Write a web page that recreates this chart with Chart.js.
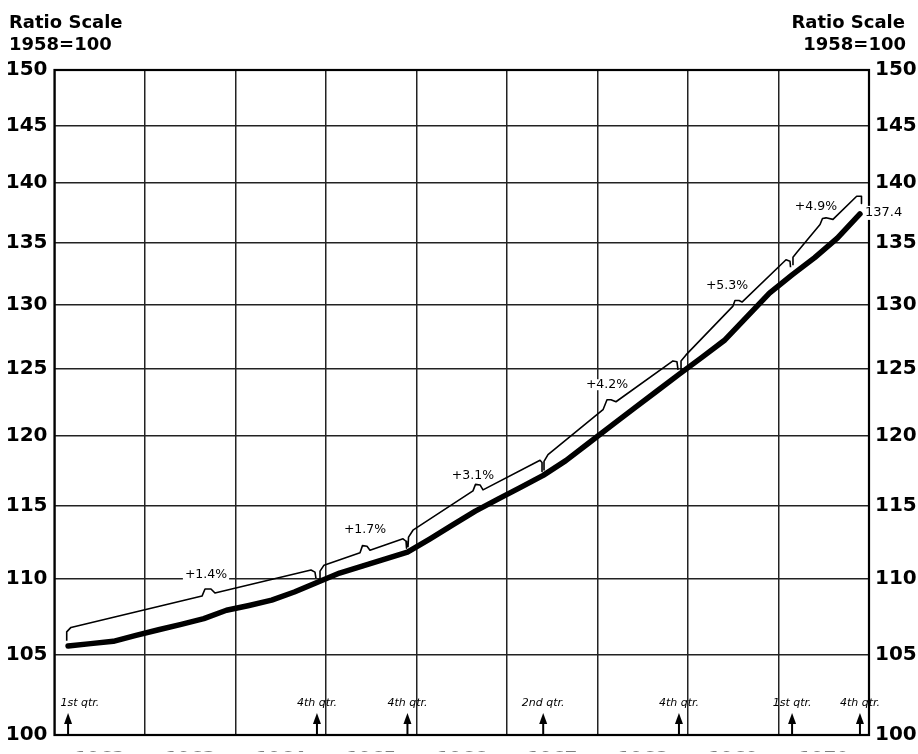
<!DOCTYPE html>
<html>
<head>
<meta charset="utf-8">
<script src="https://cdn.jsdelivr.net/npm/chart.js@4.4.1/dist/chart.umd.min.js"></script>
<style>html,body{margin:0;padding:0;background:#fff}canvas{display:block}</style>
</head>
<body>
<canvas id="c" width="918" height="754"></canvas>
<script>
// ---- Data ----
const yearLabels = ["1962","1963","1964","1965","1966","1967","1968","1969","1970"];
const yearLines  = [1962,1963,1964,1965,1966,1967,1968,1969,1970,1971];
const yTicks     = [100,105,110,115,120,125,130,135,140,145,150];

// quarterly positions (1962 Q1 ... 1970 Q4)
const quarterX = [
 1962.15,1962.40,1962.65,1962.90, 1963.15,1963.40,1963.65,1963.90,
 1964.15,1964.40,1964.65,1964.90, 1965.15,1965.40,1965.65,1965.90,
 1966.15,1966.40,1966.65,1966.90, 1967.15,1967.40,1967.65,1967.90,
 1968.15,1968.40,1968.65,1968.90, 1969.15,1969.40,1969.65,1969.90,
 1970.15,1970.40,1970.65,1970.90];
// index, 1958 = 100
const indexValues = [
 105.57,105.73,105.88,106.26, 106.63,106.98,107.35,107.90,
 108.22,108.57,109.11,109.75, 110.38,110.85,111.32,111.79,
 112.71,113.67,114.63,115.47, 116.30,117.15,118.21,119.47,
 120.74,122.02,123.30,124.59, 125.87,127.19,129.04,130.92,
 132.38,133.79,135.38,137.40];

// bracket (trend) line drawn above the series; null separates brackets
const trendX = [
 1962.135,1962.135,1962.182,1963.630,1963.663,1963.729,1963.773,1964.834,1964.878,1964.889, 1964.91,
 1964.934,1964.934,1964.978,1965.376,1965.403,1965.453,1965.486,1965.851,1965.884,1965.890, 1965.90,
 1965.906,1965.912,1965.961,1966.624,1966.652,1966.702,1966.735,1967.365,1967.387,1967.387, 1967.40,
 1967.409,1967.409,1967.453,1968.061,1968.105,1968.149,1968.204,1968.834,1968.878,1968.890, 1968.91,
 1968.923,1968.923,1968.978,1969.497,1969.519,1969.564,1969.597,1970.083,1970.127,1970.133, 1970.15,
 1970.160,1970.160,1970.204,1970.459,1970.486,1970.525,1970.602,1970.864,1970.917,1970.917];
const trendY = [
 105.91,106.49,106.78,108.84,109.31,109.31,109.04,110.58,110.44,110.04, null,
 109.91,110.51,110.91,111.76,112.24,112.20,111.93,112.71,112.54,112.07, null,
 112.13,112.82,113.30,116.05,116.51,116.47,116.12,118.24,118.08,117.43, null,
 117.50,118.15,118.65,121.94,122.68,122.68,122.53,125.62,125.55,124.94, null,
 124.86,125.62,126.08,129.89,130.33,130.33,130.21,133.61,133.49,133.00, null,
 133.17,133.82,134.22,136.52,137.02,137.07,136.94,138.89,138.89,138.28];

// growth-rate annotations
const growthLabels = ["+1.4%","+1.7%","+3.1%","+4.2%","+5.3%","+4.9%"];
const growthX      = [1963.674,1965.431,1966.624,1968.105,1969.431,1970.414];
const growthY      = [110.24,113.30,117.15,123.81,131.48,138.03];

// quarter markers along the bottom
const qtrLabels = ["1st qtr.","4th qtr.","4th qtr.","2nd qtr.","4th qtr.","1st qtr.","4th qtr."];
const qtrX      = [1962.15,1964.90,1965.90,1967.40,1968.90,1970.15,1970.90];

const lastLabel = "137.4";

// ---- Chart ----
const xTickValues = [];
yearLines.forEach(v => xTickValues.push(v));
yearLabels.forEach(l => xTickValues.push(Number(l) + 0.5));
xTickValues.sort((a,b)=>a-b);

const FONT = '"DejaVu Sans", sans-serif';
const tickFont = {family: FONT, size: 20, weight: 'bold'};
const GRID = '#222';

const decor = {
  id: 'decor',
  beforeDraw(chart) {
    const ctx = chart.ctx;
    ctx.save();
    ctx.fillStyle = '#fff';
    ctx.fillRect(0, 0, chart.width, chart.height);
    ctx.restore();
  },
  beforeDatasetsDraw(chart) {
    const {ctx, chartArea: a} = chart;
    ctx.save();
    ctx.strokeStyle = '#000';
    ctx.lineWidth = 2.2;
    ctx.strokeRect(a.left, a.top, a.right - a.left, a.bottom - a.top);
    ctx.restore();
  },
  afterDatasetsDraw(chart) {
    const {ctx, chartArea: a, scales: {x, y}} = chart;
    ctx.save();
    // growth labels
    ctx.font = '12.5px ' + FONT;
    ctx.textAlign = 'center';
    ctx.textBaseline = 'middle';
    growthLabels.forEach((t, i) => {
      const px = x.getPixelForValue(growthX[i]);
      const py = y.getPixelForValue(growthY[i]);
      const w = ctx.measureText(t).width;
      ctx.fillStyle = '#fff';
      ctx.fillRect(px - w/2 - 2, py - 5.5, w + 4, 11);
      ctx.fillStyle = '#000';
      ctx.fillText(t, px, py);
    });
    // final value label
    const li = indexValues.length - 1;
    const lx = x.getPixelForValue(quarterX[li]) + 5;
    const ly = y.getPixelForValue(indexValues[li]) - 1;
    ctx.font = '13px ' + FONT;
    ctx.textAlign = 'left';
    const lw = ctx.measureText(lastLabel).width;
    ctx.fillStyle = '#fff';
    ctx.fillRect(lx - 1, ly - 7, lw + 2, 14);
    ctx.fillStyle = '#000';
    ctx.fillText(lastLabel, lx, ly);
    // quarter markers
    ctx.font = 'italic 11px ' + FONT;
    ctx.textAlign = 'center';
    qtrLabels.forEach((t, i) => {
      const px = x.getPixelForValue(qtrX[i]);
      const w = ctx.measureText(t).width;
      let tx = px;
      if (tx - w/2 < a.left + 6) tx = a.left + 6 + w/2;
      ctx.fillStyle = '#000';
      ctx.fillText(t, tx, a.bottom - 32);
      ctx.strokeStyle = '#000';
      ctx.lineWidth = 2;
      ctx.beginPath();
      ctx.moveTo(px, a.bottom - 1);
      ctx.lineTo(px, a.bottom - 13);
      ctx.stroke();
      ctx.beginPath();
      ctx.moveTo(px, a.bottom - 22);
      ctx.lineTo(px - 4, a.bottom - 11);
      ctx.lineTo(px + 4, a.bottom - 11);
      ctx.closePath();
      ctx.fill();
    });
    ctx.restore();
  },
  afterDraw(chart) {
    const ctx = chart.ctx;
    ctx.save();
    ctx.fillStyle = '#000';
    ctx.font = 'bold 18px ' + FONT;
    ctx.textBaseline = 'alphabetic';
    ctx.textAlign = 'left';
    ctx.fillText('Ratio Scale', 9, 28);
    ctx.fillText('1958=100', 9, 50);
    ctx.textAlign = 'right';
    ctx.fillText('Ratio Scale', 905, 28);
    ctx.fillText('1958=100', 906, 50);
    ctx.restore();
  }
};

const yAxisBase = (pos) => ({
  type: 'logarithmic',
  position: pos,
  min: 100, max: 150,
  afterBuildTicks: s => { s.ticks = yTicks.map(v => ({value: v})); },
  border: {display: false},
  ticks: {
    color: '#000', font: tickFont, autoSkip: false,
    callback: v => String(v)
  }
});

const yLeft = yAxisBase('left');
yLeft.grid = {color: GRID, lineWidth: 1.5, drawTicks: false};
yLeft.ticks.padding = 7;
yLeft.afterFit = s => { s.width = 54.5; };

const yRight = yAxisBase('right');
yRight.grid = {display: false, drawTicks: false};
yRight.ticks.padding = 6;
yRight.afterFit = s => { s.width = 49; };

new Chart(document.getElementById('c'), {
  type: 'line',
  data: {
    datasets: [
      {
        data: quarterX.map((q, i) => ({x: q, y: indexValues[i]})),
        borderColor: '#000', borderWidth: 5.5, pointRadius: 0, tension: 0,
        borderCapStyle: 'round', borderJoinStyle: 'round', fill: false
      },
      {
        data: trendX.map((q, i) => ({x: q, y: trendY[i]})),
        borderColor: '#000', borderWidth: 1.6, pointRadius: 0, tension: 0,
        spanGaps: false, borderJoinStyle: 'round', fill: false
      }
    ]
  },
  options: {
    responsive: false,
    animation: false,
    devicePixelRatio: 1,
    layout: {padding: {top: 70, left: 0, right: 0, bottom: 0}},
    plugins: {legend: {display: false}, tooltip: {enabled: false}},
    scales: {
      x: {
        type: 'linear', min: 1962, max: 1971,
        afterBuildTicks: s => { s.ticks = xTickValues.map(v => ({value: v})); },
        grid: {
          color: c => (c.tick && Number.isInteger(c.tick.value)) ? GRID : 'rgba(0,0,0,0)',
          lineWidth: 1.5, drawTicks: false
        },
        border: {display: false},
        ticks: {
          autoSkip: false, maxRotation: 0, minRotation: 0, padding: 14,
          color: '#000', font: {family: FONT, size: 18, weight: 'bold'},
          callback: v => Number.isInteger(v) ? '' : (yearLabels[Math.floor(v) - 1962] || '')
        },
        afterFit: s => { s.height = 16.5; }
      },
      y: yLeft,
      y2: yRight
    }
  },
  plugins: [decor]
});
</script>
</body>
</html>
